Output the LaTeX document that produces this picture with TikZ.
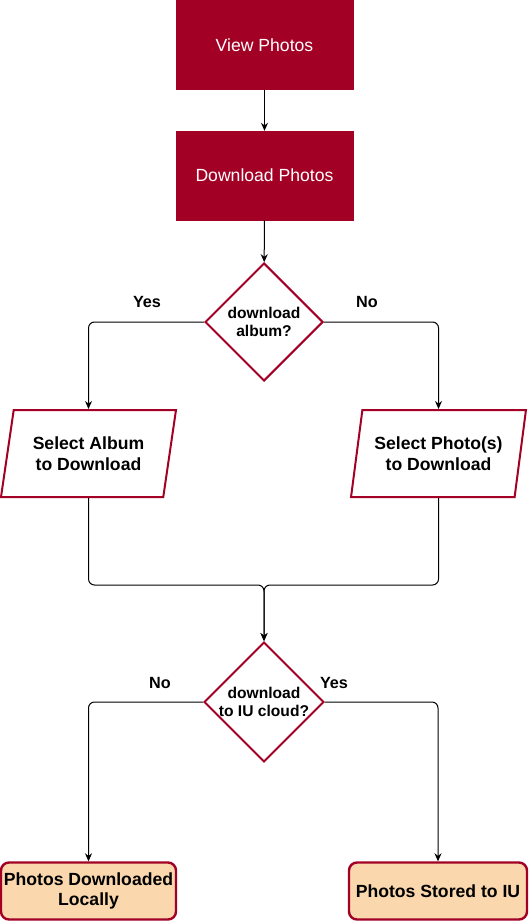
\documentclass[tikz,border=0pt]{standalone}
\usepackage{fontspec}
\setmainfont{Liberation Sans}
\usetikzlibrary{shapes.geometric, arrows.meta}
\definecolor{crimson}{HTML}{A20025}
\definecolor{peach}{HTML}{FAD7AC}
\begin{document}
\begin{tikzpicture}[x=1pt, y=-1pt,
  actbox/.style={rectangle, fill=crimson, draw=crimson, text=white, minimum width=177pt, minimum height=89pt, font=\fontsize{17.6}{21}\selectfont},
  decision/.style={diamond, draw=crimson, line width=2pt, fill=white, minimum width=118pt, minimum height=118pt, inner sep=0pt, align=center, font=\bfseries\fontsize{15.6}{18.3}\selectfont},
  iobox/.style={trapezium, trapezium left angle=76, trapezium right angle=104, trapezium stretches=true, draw=crimson, line width=2pt, minimum width=175pt, minimum height=87pt, align=center, font=\bfseries\fontsize{17.6}{20.7}\selectfont},
  endbox/.style={rectangle, rounded corners=8pt, draw=crimson, line width=2.4pt, fill=peach, minimum height=57pt, inner sep=0pt, align=center, font=\bfseries\fontsize{17.6}{20.7}\selectfont},
  flow/.style={-{Stealth[length=8pt, width=7pt]}, line width=1pt, rounded corners=6pt},
  choice/.style={font=\bfseries\fontsize{16.2}{19}\selectfont}]
\useasboundingbox (0,0) rectangle (529,923);

\node[actbox] (view) at (264.5,45) {View Photos};
\node[actbox] (download) at (264.5,175.5) {Download Photos};
\node[decision] (album) at (264,322) {download\\album?};
\node[iobox] (selalbum) at (88.5,453.5) {Select Album\\to Download};
\node[iobox] (selphoto) at (438.5,453.5) {Select Photo(s)\\to Download};
\coordinate (merge) at (264,585);
\node[decision] (cloud) at (264,702) {download\\to IU cloud?};
\node[endbox, minimum width=175pt] (local) at (88.5,891) {Photos Downloaded\\Locally};
\node[endbox, minimum width=178pt] (stored) at (438,891) {Photos Stored to IU};

\draw[flow] (view) -- (download);
\draw[flow] (download) -- (album);
\draw[flow] (album.west) -| (selalbum.north);
\draw[flow] (album.east) -| (selphoto.north);
\draw[flow] (selalbum.south) |- (merge) -- (cloud.north);
\draw[flow] (selphoto.south) |- (merge) -- (cloud.north);
\draw[flow] (cloud.west) -| (local.north);
\draw[flow] (cloud.east) -| (stored.north);

\node[choice] (yes1) at (147,302) {Yes};
\node[choice] (no1) at (367,302) {No};
\node[choice] (no2) at (160,683) {No};
\node[choice] (yes2) at (334,683) {Yes};
\end{tikzpicture}
\end{document}
